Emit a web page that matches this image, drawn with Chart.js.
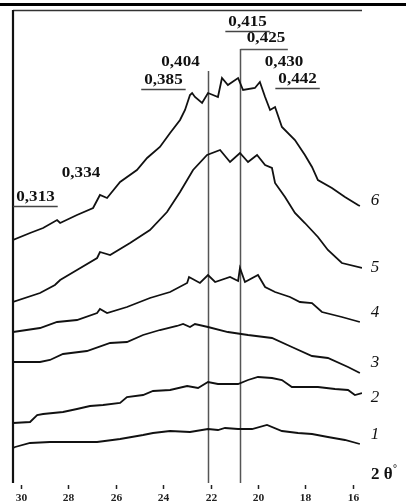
<!DOCTYPE html>
<html>
<head>
<meta charset="utf-8">
<script src="https://cdn.jsdelivr.net/npm/chart.js@4/dist/chart.umd.min.js"></script>
<style>
  html, body { margin: 0; padding: 0; background: #fff; }
  #wrap { width: 406px; height: 504px; }
</style>
</head>
<body>
<div id="wrap"><canvas id="c" width="406" height="504"></canvas></div>
<script>
// ---- Data (2θ in degrees, intensity in arbitrary units) ----
const curveNames = ['1', '2', '3', '4', '5', '6'];

const theta1 = [30.34, 30.25, 29.62, 28.78, 27.64, 26.79, 25.82, 24.85, 24.43, 23.71, 22.87, 22.11, 21.69, 21.39, 20.84, 20.25, 19.62, 18.99, 18.31, 17.72, 17.05, 16.33, 15.70];
const int1   = [35, 36, 40, 41, 41, 41, 44, 48, 50, 52, 51, 54, 53, 55, 54, 54, 58, 52, 50, 49, 46, 43, 39];

const theta2 = [30.34, 29.62, 29.32, 29.07, 28.23, 27.64, 27.09, 26.54, 25.82, 25.53, 24.85, 24.43, 23.71, 22.99, 22.53, 22.11, 21.69, 20.84, 20.42, 20.00, 19.41, 18.99, 18.57, 17.47, 16.75, 16.20, 15.91, 15.61];
const int2   = [60, 61, 68, 69, 71, 74, 77, 78, 80, 86, 88, 92, 93, 97, 95, 101, 99, 99, 103, 106, 105, 103, 96, 96, 94, 93, 88, 90];

const theta3 = [30.34, 29.20, 28.78, 28.23, 27.22, 26.24, 25.53, 24.85, 24.14, 23.42, 23.16, 22.87, 22.66, 22.11, 21.27, 20.42, 19.41, 18.57, 17.72, 17.05, 16.20, 15.70];
const int3   = [121, 121, 123, 129, 132, 140, 141, 148, 153, 157, 159, 156, 159, 156, 151, 148, 145, 136, 127, 125, 116, 110];

const theta4 = [30.34, 29.20, 28.48, 27.64, 26.79, 26.67, 26.37, 25.53, 24.56, 23.71, 22.99, 22.91, 22.45, 22.11, 21.81, 21.18, 20.84, 20.76, 20.55, 20.00, 19.70, 19.28, 18.65, 18.23, 17.72, 17.30, 16.46, 15.70];
const int4   = [151, 155, 161, 163, 170, 174, 170, 176, 185, 191, 200, 206, 200, 208, 201, 206, 202, 215, 201, 208, 196, 191, 186, 181, 180, 171, 166, 161];

const theta5 = [30.34, 29.20, 28.57, 28.35, 27.64, 26.79, 26.67, 26.24, 25.40, 24.56, 23.84, 23.29, 22.74, 22.15, 21.60, 21.18, 20.76, 20.42, 20.04, 19.70, 19.41, 19.28, 18.86, 18.44, 18.02, 17.47, 17.05, 16.46, 15.61];
const int5   = [181, 190, 198, 203, 213, 225, 231, 228, 240, 253, 271, 291, 313, 328, 333, 321, 330, 321, 328, 318, 315, 300, 286, 270, 260, 246, 233, 220, 215];

const theta6 = [30.34, 29.62, 29.07, 28.48, 28.35, 27.64, 26.96, 26.67, 26.37, 25.82, 25.11, 24.68, 24.14, 23.71, 23.29, 23.08, 22.87, 22.78, 22.66, 22.36, 22.11, 21.90, 21.69, 21.52, 21.27, 20.84, 20.63, 20.13, 19.92, 19.70, 19.49, 19.28, 18.99, 18.44, 18.02, 17.72, 17.47, 16.88, 16.33, 15.78, 15.70];
const int6   = [243, 250, 255, 263, 260, 268, 275, 288, 285, 301, 313, 325, 336, 350, 363, 373, 388, 390, 386, 380, 390, 388, 386, 405, 398, 405, 393, 395, 401, 386, 373, 376, 356, 343, 328, 316, 303, 295, 286, 278, 277];

const xTicks = [30, 28, 26, 24, 22, 20, 18, 16];

// d-spacing (nm) annotations
const dLabels   = ['0,313', '0,334', '0,385', '0,404', '0,415', '0,425', '0,430', '0,442'];
const dLabelX   = [29.39, 27.47, 23.99, 23.27, 20.44, 19.66, 18.90, 18.33];
const dLabelY   = [286, 310, 403, 421, 461, 445, 421, 404];
const dUnderline = [true, false, true, false, true, false, false, true];

// reference lines (2θ) and their top (intensity)
const refLineX   = [22.11, 20.76];
const refLineTop = [412, 434];

// curve number label positions (intensity)
const curveLabelY = [48, 85, 120, 170, 215, 282];
const curveLabelX = 15.06;

// ---- Chart ----
const thetaSets = [theta1, theta2, theta3, theta4, theta5, theta6];
const intSets = [int1, int2, int3, int4, int5, int6];

const datasets = thetaSets.map((th, i) => ({
  label: curveNames[i],
  data: th.map((t, j) => ({ x: t, y: intSets[i][j] })),
  borderColor: '#111',
  borderWidth: 1.8,
  pointRadius: 0,
  tension: 0,
  fill: false
}));

const SERIF = '"Liberation Serif", "DejaVu Serif", serif';

function stretchedText(ctx, text, x, y, font, sx, align) {
  ctx.save();
  ctx.font = font;
  ctx.textBaseline = 'middle';
  ctx.textAlign = 'left';
  const w = ctx.measureText(text).width * sx;
  let x0 = x;
  if (align === 'center') x0 = x - w / 2;
  ctx.translate(x0, y);
  ctx.scale(sx, 1);
  ctx.fillText(text, 0, 0);
  ctx.restore();
  return w;
}

const decor = {
  id: 'decor',
  beforeDatasetsDraw(chart) {
    const { ctx, chartArea: a, scales: { x, y } } = chart;
    ctx.save();
    ctx.strokeStyle = '#555';
    ctx.lineWidth = 1.5;
    refLineX.forEach((v, i) => {
      const px = Math.round(x.getPixelForValue(v)) + 0.5;
      ctx.beginPath();
      ctx.moveTo(px, y.getPixelForValue(refLineTop[i]));
      ctx.lineTo(px, a.bottom);
      ctx.stroke();
    });
    const bx = Math.round(x.getPixelForValue(refLineX[1])) + 0.5;
    const byy = Math.round(y.getPixelForValue(refLineTop[1])) + 0.5;
    ctx.beginPath();
    ctx.moveTo(bx, byy);
    ctx.lineTo(x.getPixelForValue(18.74), byy);
    ctx.stroke();
    ctx.restore();
  },
  afterDraw(chart) {
    const { ctx, chartArea: a, scales: { x, y } } = chart;
    const W = chart.width;
    ctx.save();
    ctx.fillStyle = '#000';
    ctx.fillRect(0, 3, W, 3);
    ctx.strokeStyle = '#333';
    ctx.lineWidth = 1.5;
    ctx.beginPath();
    ctx.moveTo(a.left, a.top + 0.5);
    ctx.lineTo(a.right, a.top + 0.5);
    ctx.stroke();
    ctx.strokeStyle = '#111';
    ctx.lineWidth = 2.2;
    ctx.beginPath();
    ctx.moveTo(a.left, a.top);
    ctx.lineTo(a.left, a.bottom);
    ctx.stroke();
    ctx.fillStyle = '#222';
    ctx.strokeStyle = '#222';
    ctx.lineWidth = 1.5;
    xTicks.forEach(t => {
      const px = Math.round(x.getPixelForValue(t)) + 0.5;
      ctx.beginPath();
      ctx.moveTo(px, a.bottom + 2);
      ctx.lineTo(px, a.bottom + 6);
      ctx.stroke();
      stretchedText(ctx, String(t), px, a.bottom + 15, 'bold 10px ' + SERIF, 1.15, 'center');
    });
    ctx.fillStyle = '#111';
    const ty = y.getPixelForValue(8);
    const tw = stretchedText(ctx, '2 θ', a.right + 9, ty, 'bold 17px ' + SERIF, 1.0, 'left');
    stretchedText(ctx, '°', a.right + 9 + tw + 0.5, ty - 6, 'bold 10px ' + SERIF, 1.0, 'left');
    curveNames.forEach((n, i) => {
      stretchedText(ctx, n, x.getPixelForValue(curveLabelX), y.getPixelForValue(curveLabelY[i]),
        'italic 17px ' + SERIF, 1.0, 'center');
    });
    dLabels.forEach((s, i) => {
      const cx = x.getPixelForValue(dLabelX[i]);
      const cy = y.getPixelForValue(dLabelY[i]);
      const w = stretchedText(ctx, s, cx, cy, 'bold 14px ' + SERIF, 1.22, 'center');
      if (dUnderline[i]) {
        ctx.strokeStyle = '#444';
        ctx.lineWidth = 1.5;
        ctx.beginPath();
        ctx.moveTo(cx - w / 2 - 3, Math.round(cy + 9) + 0.5);
        ctx.lineTo(cx + w / 2 + 3, Math.round(cy + 9) + 0.5);
        ctx.stroke();
      }
    });
    ctx.restore();
  }
};

new Chart(document.getElementById('c'), {
  type: 'line',
  data: { datasets },
  options: {
    responsive: false,
    devicePixelRatio: 1,
    animation: false,
    layout: { padding: { left: 13, right: 44, top: 10, bottom: 21 } },
    plugins: { legend: { display: false }, tooltip: { enabled: false } },
    scales: {
      x: { type: 'linear', reverse: true, min: 15.61, max: 30.34, display: false },
      y: { type: 'linear', min: 0, max: 473, display: false }
    }
  },
  plugins: [decor]
});
</script>
</body>
</html>
